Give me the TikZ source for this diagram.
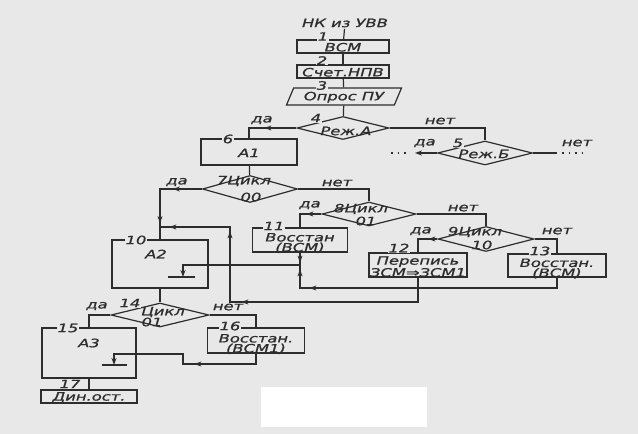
\documentclass[tikz,border=0pt]{standalone}
\usepackage{fontspec}
\newfontfamily\gost[FakeStretch=1.42,FakeBold=0.9]{DejaVu Sans}
\usetikzlibrary{shapes.geometric,arrows.meta,decorations.markings}
\definecolor{ink}{RGB}{45,45,45}
\definecolor{paper}{RGB}{232,232,232}
\tikzset{
  box/.style={draw=ink,rectangle,inner sep=0pt,text height=10pt},
  rhomb/.style={draw=ink,diamond,inner sep=0pt},
  txt2/.style={align=center,inner sep=0pt},
  num/.style={fill=paper,inner sep=0.5pt},
  flowtip/.style={postaction={decorate,decoration={markings,
      mark=at position #1 with {\arrow{Stealth[length=7pt,width=5pt]}}}}},
  dots/.style={dash pattern=on 1.5pt off 5pt}
}
\begin{document}
\begin{tikzpicture}[x=1pt,y=-1pt,line width=1.2pt,color=ink,
    every node/.style={font=\gost\itshape\fontsize{11.5}{10}\selectfont,text=ink,inner sep=1pt}]
  \fill[paper] (0,0) rectangle (638,434);
  \fill[white] (261,387) rectangle (427,427);

  % blocks
  \node (ttl) at (345,23) {НК из УВВ};
  \node[box,minimum width=92pt,minimum height=13pt] (b1) at (343,46.5) {ВСМ};
  \node[box,minimum width=92pt,minimum height=13pt] (b2) at (343,71.5) {Счет.НПВ};
  \node[draw,trapezium,trapezium left angle=60,trapezium right angle=120,
    trapezium stretches body,minimum width=115pt,minimum height=17pt,inner sep=0pt,
    text height=10pt] (p3) at (344,96.5) {Опрос ПУ};
  \node[rhomb,minimum width=92pt,minimum height=23pt] (d4) at (343,128) {};
  \node[rhomb,minimum width=95pt,minimum height=24pt] (d5) at (485,153) {};
  \node[box,minimum width=96pt,minimum height=26pt] (b6) at (249,152) {А1};
  \node[rhomb,minimum width=95pt,minimum height=27pt] (d7) at (250,189) {};
  \node[rhomb,minimum width=94pt,minimum height=24pt] (d8) at (369,214) {};
  \node[rhomb,minimum width=96pt,minimum height=25pt] (d9) at (486,239) {};
  \node[box,minimum width=96pt,minimum height=48pt] (b10) at (160,264) {};
  \node[box,minimum width=95pt,minimum height=24pt] (b11) at (300,240) {};
  \node[box,minimum width=98pt,minimum height=24pt] (b12) at (418,265) {};
  \node[box,minimum width=98pt,minimum height=23pt] (b13) at (557,265.5) {};
  \node[rhomb,minimum width=98pt,minimum height=24pt] (d14) at (160,315) {};
  \node[box,minimum width=94pt,minimum height=50pt] (b15) at (89,353) {};
  \node[box,minimum width=97pt,minimum height=25pt] (b16) at (256,340.5) {};
  \node[box,minimum width=96pt,minimum height=13pt] (b17) at (89,396.5) {Дин.ост.};

  % texts in blocks
  \node (t4) at (346,131) {Реж.А};
  \node (t5) at (484,154) {Реж.Б};
  \node (t7) at (244,181) {7Цикл};
  \node (s7) at (251,197) {00};
  \node (t8) at (361,209) {8Цикл};
  \node (s8) at (366,221) {01};
  \node (t9) at (475,232) {9Цикл};
  \node (s9) at (482,245) {10};
  \node (a2) at (156,254) {А2};
  \node[txt2] (t11) at (300,243) {Восстан\\(ВСМ)};
  \node[txt2] (t12) at (418,266.5) {Перепись\\ЗСМ⇒ЗСМ1};
  \node[txt2] (t13) at (557,268.5) {Восстан.\\(ВСМ)};
  \node (t14) at (163,312) {Цикл};
  \node (s14) at (152,322) {01};
  \node (a3) at (89,343) {А3};
  \node[txt2] (t16) at (256,344) {Восстан.\\(ВСМ1)};

  % numbers
  \node[num] (n1) at (323,36.5) {1};
  \node[num] (n2) at (322,60.5) {2};
  \node[num] (n3) at (322,85.5) {3};
  \node[num] (n4) at (316,118) {4};
  \node[num] (n5) at (458,143) {5};
  \node[num] (n6) at (228,139) {6};
  \node[num] (n10) at (136,240) {10};
  \node[num] (n11) at (274,226) {11};
  \node[num] (n12) at (399,248) {12};
  \node[num] (n13) at (540,251) {13};
  \node[num] (n14) at (130,303) {14};
  \node[num] (n15) at (68,328) {15};
  \node[num] (n16) at (230,326) {16};
  \node[num] (n17) at (70,384) {17};

  % yes / no
  \node (y4) at (262,120) {да};
  \node (x4) at (440,121) {нет};
  \node (y5) at (425,143) {да};
  \node (x5) at (577,143) {нет};
  \node (y7) at (177,182) {да};
  \node (x7) at (337,183) {нет};
  \node (y8) at (310,205) {да};
  \node (x8) at (463,208) {нет};
  \node (y9) at (421,231) {да};
  \node (x9) at (557,231) {нет};
  \node (y14) at (97,306) {да};
  \node (x14) at (228,307) {нет};

  \coordinate (j1) at (300,265);
  \coordinate (m13) at (300,288);
  \coordinate (e10) at (183,265);
  \coordinate (in10) at (183,277);
  \coordinate (m12) at (230,302);
  \coordinate (j2) at (160,227);
  \coordinate (e15) at (114,354);
  \coordinate (in15) at (114,365);
  \coordinate (m16) at (183,364);
  \coordinate (l5) at (415,153);
  \coordinate (ll5) at (391,153);
  \coordinate (ld5) at (410,153);
  \coordinate (r5) at (557,153);
  \coordinate (rd5) at (562,153);
  \coordinate (rr5) at (588,153);

  % lines
  \draw (ttl) -- (b1);
  \draw (b1) -- (b2);
  \draw (b2) -- (p3);
  \draw (p3) -- (d4);
  \draw[flowtip=32pt] (d4.west) -| (b6.north);
  \draw (d4.east) -| (d5.north);
  \draw[-{Stealth[length=7pt,width=5pt]}] (d5.west) -- (l5);
  \draw[dots] (ll5) -- (ld5);
  \draw (d5.east) -- (r5);
  \draw[dots] (rd5) -- (rr5);
  \draw (b6) -- (d7);
  \draw[flowtip=29pt,flowtip=76pt] (d7.west) -| (b10.north);
  \draw (d7.east) -| (d8.north);
  \draw[flowtip=15pt] (d8.west) -| (b11.north);
  \draw[flowtip=10pt] (b11.south) -- (j1);
  \draw[flowtip=258pt,flowtip=286pt] (b13.south) |- (m13) -- (j1);
  \draw[-{Stealth[length=7pt,width=5pt]}] (j1) -- (e10) -- (in10);
  \draw ([xshift=-15pt]in10) -- ([xshift=12pt]in10);
  \draw (d8.east) -| (d9.north);
  \draw[flowtip=9pt] (d9.west) -| (b12.north);
  \draw (d9.east) -| (b13.north);
  \draw[flowtip=201pt,flowtip=283pt,flowtip=348pt] (b12.south) |- (m12) |- (j2);
  \draw (b10) -- (d14);
  \draw (d14.west) -| (b15.north);
  \draw (d14.east) -| (b16.north);
  \draw[flowtip=72pt,-{Stealth[length=7pt,width=5pt]}] (b16.south) |- (m16) |- (e15) -- (in15);
  \draw ([xshift=-12pt]in15) -- ([xshift=13pt]in15);
  \draw (b15) -- (b17);
\end{tikzpicture}
\end{document}
